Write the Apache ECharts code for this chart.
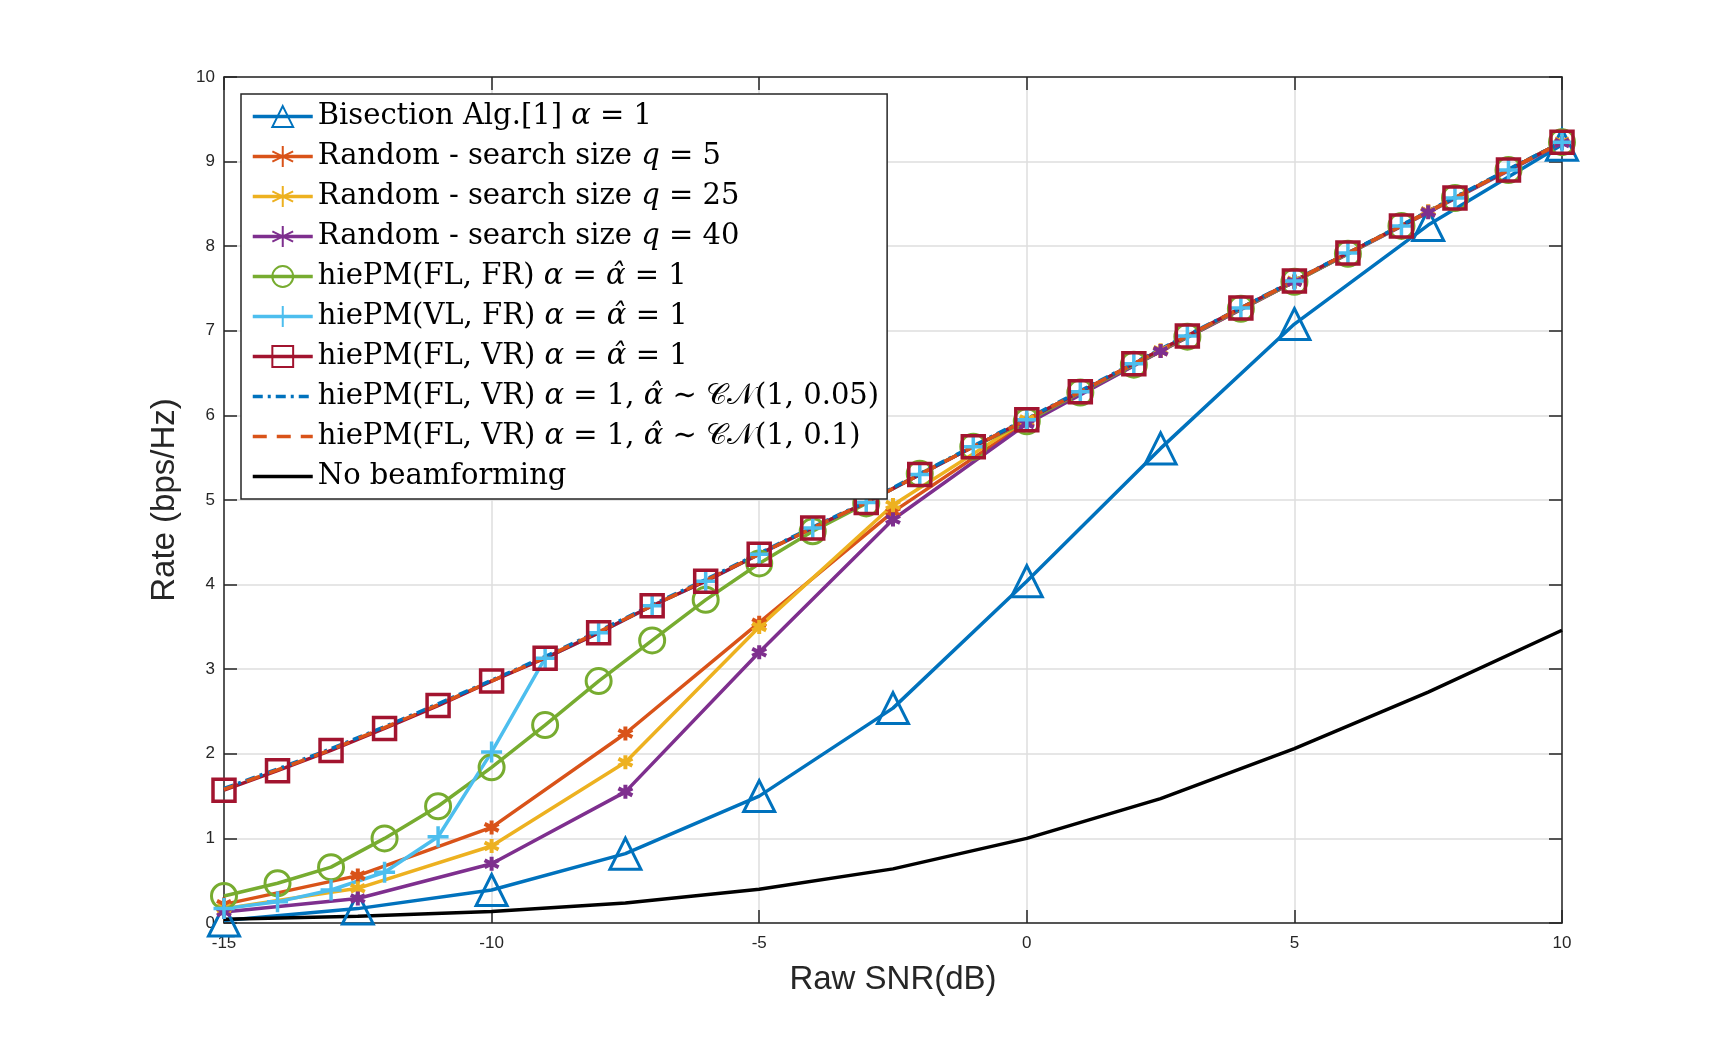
<!DOCTYPE html>
<html>
<head>
<meta charset="utf-8">
<script src="https://cdn.jsdelivr.net/npm/echarts@6/dist/echarts.min.js"></script>
<style>
  html, body { margin: 0; padding: 0; background: #fff; }
  #chart { width: 1728px; height: 1038px; }
</style>
</head>
<body>
<div id="chart"></div>
<script>
// SNR grids (dB)
const snrFine = [-15, -14, -13, -12, -11, -10, -9, -8, -7, -6, -5, -4, -3, -2, -1, 0, 1, 2, 3, 4, 5, 6, 7, 8, 9, 10]
const snrCoarse = [-15, -12.5, -10, -7.5, -5, -2.5, 0, 2.5, 5, 7.5, 10]

// rates (bps/Hz)
const bisectionRate = [0.03, 0.17, 0.39, 0.82, 1.50, 2.54, 4.04, 5.61, 7.08, 8.25, 9.20]
const random5Rate = [0.22, 0.56, 1.13, 2.24, 3.55, 4.86, 5.92, 6.76, 7.58, 8.41, 9.23]
const random25Rate = [0.17, 0.41, 0.91, 1.90, 3.50, 4.94, 5.95, 6.77, 7.59, 8.41, 9.23]
const random40Rate = [0.13, 0.29, 0.70, 1.55, 3.20, 4.77, 5.90, 6.76, 7.58, 8.40, 9.22]
const flfrRate = [0.32, 0.47, 0.66, 1.00, 1.38, 1.84, 2.34, 2.86, 3.34, 3.82, 4.25, 4.63, 4.96, 5.31, 5.63, 5.93, 6.27, 6.60, 6.93, 7.26, 7.58, 7.91, 8.24, 8.57, 8.90, 9.23]
const vlfrRate = [0.17, 0.25, 0.39, 0.60, 1.02, 2.02, 3.13, 3.43, 3.75, 4.04, 4.36, 4.67, 4.97, 5.30, 5.63, 5.95, 6.28, 6.61, 6.94, 7.27, 7.59, 7.92, 8.24, 8.57, 8.90, 9.23]
const flvrRate = [1.57, 1.80, 2.04, 2.30, 2.57, 2.86, 3.13, 3.43, 3.75, 4.04, 4.36, 4.67, 4.97, 5.30, 5.63, 5.95, 6.28, 6.61, 6.94, 7.27, 7.59, 7.92, 8.24, 8.57, 8.90, 9.23]
const cn005Rate = [1.59, 1.82, 2.06, 2.32, 2.59, 2.87, 3.15, 3.45, 3.76, 4.06, 4.37, 4.68, 4.98, 5.31, 5.64, 5.96, 6.29, 6.62, 6.95, 7.27, 7.60, 7.92, 8.25, 8.58, 8.91, 9.23]
const cn01Rate = [1.58, 1.81, 2.05, 2.31, 2.58, 2.86, 3.14, 3.44, 3.75, 4.05, 4.36, 4.67, 4.97, 5.30, 5.63, 5.95, 6.28, 6.61, 6.94, 7.27, 7.59, 7.92, 8.24, 8.57, 8.90, 9.23]
const noBfRate = [0.045, 0.079, 0.137, 0.236, 0.40, 0.64, 1.00, 1.47, 2.06, 2.73, 3.46]

// axis ticks
const xTicks = [-15, -10, -5, 0, 5, 10]
const yTicks = [0, 1, 2, 3, 4, 5, 6, 7, 8, 9, 10]

const names = [
  'Bisection Alg.[1] α = 1',
  'Random - search size q = 5',
  'Random - search size q = 25',
  'Random - search size q = 40',
  'hiePM(FL, FR) α = α̂ = 1',
  'hiePM(VL, FR) α = α̂ = 1',
  'hiePM(FL, VR) α = α̂ = 1',
  'hiePM(FL, VR) α = 1, α̂ ~ CN(1, 0.05)',
  'hiePM(FL, VR) α = 1, α̂ ~ CN(1, 0.1)',
  'No beamforming'
]

const richNames = [
  'Bisection Alg.[1] {i|α} = 1',
  'Random - search size {i|q} = 5',
  'Random - search size {i|q} = 25',
  'Random - search size {i|q} = 40',
  'hiePM(FL, FR) {i|α} = {i|α̂} = 1',
  'hiePM(VL, FR) {i|α} = {i|α̂} = 1',
  'hiePM(FL, VR) {i|α} = {i|α̂} = 1',
  'hiePM(FL, VR) {i|α} = 1, {i|α̂} ∼ {c|𝒞𝒩}(1, 0.05)',
  'hiePM(FL, VR) {i|α} = 1, {i|α̂} ∼ {c|𝒞𝒩}(1, 0.1)',
  'No beamforming'
]

const asterisk = 'path://M5,0 L5,10 M0.67,2.5 L9.33,7.5 M0.67,7.5 L9.33,2.5'
const plus = 'path://M5,0 L5,10 M0,5 L10,5'
const clear = 'rgba(255,255,255,0)'
const serif = 'DejaVu Serif'

function pairs(xs, ys) {
  return xs.map((x, i) => [x, ys[i]])
}

function markedLine(name, xs, ys, color, symbol, size, borderWidth) {
  return {
    name,
    type: 'line',
    data: pairs(xs, ys),
    symbol,
    symbolSize: size,
    showAllSymbol: true,
    lineStyle: { color, width: 3.5 },
    itemStyle: { color: clear, borderColor: color, borderWidth },
    emphasis: { disabled: true }
  }
}

function plainLine(name, xs, ys, color, type) {
  return {
    name,
    type: 'line',
    data: pairs(xs, ys),
    symbol: 'circle',
    showSymbol: false,
    lineStyle: { color, width: 3.5, type },
    itemStyle: { color: clear, borderWidth: 0 },
    emphasis: { disabled: true }
  }
}

const chart = echarts.init(document.getElementById('chart'))

const axisLineStyle = { color: '#262626', width: 1.5 }
const tickStyle = { inside: true, length: 13, lineStyle: axisLineStyle }

chart.setOption({
  animation: false,
  backgroundColor: '#fff',
  grid: { left: 224, right: 166, top: 77, bottom: 115 },
  legend: {
    orient: 'vertical',
    left: 241,
    top: 94,
    padding: [8, 8, 8, 10],
    itemWidth: 60,
    itemHeight: 26,
    itemGap: 11,
    backgroundColor: '#fff',
    borderColor: '#262626',
    borderWidth: 1.5,
    lineStyle: { width: 3.5 },
    data: names,
    formatter: name => richNames[names.indexOf(name)],
    textStyle: {
      fontFamily: serif,
      fontSize: 29,
      lineHeight: 26,
      color: '#000',
      rich: {
        i: { fontFamily: serif, fontSize: 29, lineHeight: 26, fontStyle: 'italic', color: '#000' },
        c: { fontSize: 29, lineHeight: 26, color: '#000' }
      }
    }
  },
  xAxis: [
    {
      type: 'value',
      min: -15,
      max: 10,
      interval: 5,
      name: 'Raw SNR(dB)',
      nameLocation: 'middle',
      nameGap: 40,
      nameTextStyle: { fontFamily: 'Liberation Sans', fontSize: 33, color: '#262626' },
      axisLine: { onZero: false, lineStyle: axisLineStyle },
      axisTick: tickStyle,
      axisLabel: {
        fontFamily: 'Liberation Sans',
        fontSize: 17,
        color: '#262626',
        margin: 12,
        formatter: v => (xTicks.includes(v) ? String(v) : '')
      },
      splitLine: { lineStyle: { color: '#dedede', width: 1.5 } }
    },
    {
      type: 'value',
      position: 'top',
      min: -15,
      max: 10,
      interval: 5,
      axisLine: { onZero: false, lineStyle: axisLineStyle },
      axisTick: tickStyle,
      axisLabel: { show: false },
      splitLine: { show: false }
    }
  ],
  yAxis: [
    {
      type: 'value',
      min: 0,
      max: 10,
      interval: 1,
      name: 'Rate (bps/Hz)',
      nameLocation: 'middle',
      nameGap: 43,
      nameTextStyle: { fontFamily: 'Liberation Sans', fontSize: 33, color: '#262626' },
      axisLine: { show: true, onZero: false, lineStyle: axisLineStyle },
      axisTick: { show: true, ...tickStyle },
      axisLabel: {
        fontFamily: 'Liberation Sans',
        fontSize: 17,
        color: '#262626',
        margin: 9,
        formatter: v => (yTicks.includes(v) ? String(v) : '')
      },
      splitLine: { lineStyle: { color: '#dedede', width: 1.5 } }
    },
    {
      type: 'value',
      position: 'right',
      min: 0,
      max: 10,
      interval: 1,
      axisLine: { show: true, onZero: false, lineStyle: axisLineStyle },
      axisTick: { show: true, ...tickStyle },
      axisLabel: { show: false },
      splitLine: { show: false }
    }
  ],
  series: [
    markedLine(names[0], snrCoarse, bisectionRate, '#0072BD', 'triangle', 31, 3),
    markedLine(names[1], snrCoarse, random5Rate, '#D95319', asterisk, 14, 4),
    markedLine(names[2], snrCoarse, random25Rate, '#EDB120', asterisk, 14, 4),
    markedLine(names[3], snrCoarse, random40Rate, '#7E2F8E', asterisk, 14, 4),
    markedLine(names[4], snrFine, flfrRate, '#77AC30', 'circle', 25, 3),
    markedLine(names[5], snrFine, vlfrRate, '#4DBEEE', plus, 21, 3.5),
    markedLine(names[6], snrFine, flvrRate, '#A2142F', 'rect', 22, 3.5),
    plainLine(names[7], snrFine, cn005Rate, '#0072BD', [10, 5, 3, 5]),
    plainLine(names[8], snrFine, cn01Rate, '#D95319', [14, 10]),
    plainLine(names[9], snrCoarse, noBfRate, '#000', 'solid')
  ]
})
</script>
</body>
</html>
